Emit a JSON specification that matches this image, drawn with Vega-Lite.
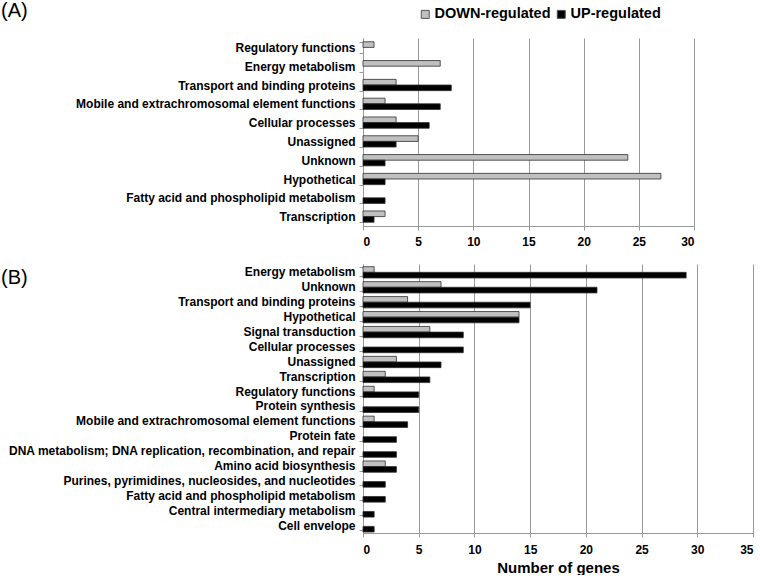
{
  "$schema": "https://vega.github.io/schema/vega-lite/v6.json",
  "padding": {"left": 0, "top": 0, "right": 5, "bottom": 0},
  "background": "white",
  "config": {
    "font": "Liberation Sans",
    "view": {"stroke": null},
    "axis": {"labelFontWeight": "bold", "labelFontSize": 12, "labelColor": "#000", "domainColor": "#9a9a9a", "tickColor": "#9a9a9a", "tickSize": 4},
    "title": {"fontSize": 20, "fontWeight": "normal", "color": "#000", "anchor": "start", "frame": "group"}
  },
  "datasets": {
    "genes": [
      {"panel": "A", "category": "Regulatory functions", "regulation": "DOWN-regulated", "genes": 1},
      {"panel": "A", "category": "Energy metabolism", "regulation": "DOWN-regulated", "genes": 7},
      {"panel": "A", "category": "Transport and binding proteins", "regulation": "DOWN-regulated", "genes": 3},
      {"panel": "A", "category": "Transport and binding proteins", "regulation": "UP-regulated", "genes": 8},
      {"panel": "A", "category": "Mobile and extrachromosomal element functions", "regulation": "DOWN-regulated", "genes": 2},
      {"panel": "A", "category": "Mobile and extrachromosomal element functions", "regulation": "UP-regulated", "genes": 7},
      {"panel": "A", "category": "Cellular processes", "regulation": "DOWN-regulated", "genes": 3},
      {"panel": "A", "category": "Cellular processes", "regulation": "UP-regulated", "genes": 6},
      {"panel": "A", "category": "Unassigned", "regulation": "DOWN-regulated", "genes": 5},
      {"panel": "A", "category": "Unassigned", "regulation": "UP-regulated", "genes": 3},
      {"panel": "A", "category": "Unknown", "regulation": "DOWN-regulated", "genes": 24},
      {"panel": "A", "category": "Unknown", "regulation": "UP-regulated", "genes": 2},
      {"panel": "A", "category": "Hypothetical", "regulation": "DOWN-regulated", "genes": 27},
      {"panel": "A", "category": "Hypothetical", "regulation": "UP-regulated", "genes": 2},
      {"panel": "A", "category": "Fatty acid and phospholipid metabolism", "regulation": "UP-regulated", "genes": 2},
      {"panel": "A", "category": "Transcription", "regulation": "DOWN-regulated", "genes": 2},
      {"panel": "A", "category": "Transcription", "regulation": "UP-regulated", "genes": 1},
      {"panel": "B", "category": "Energy metabolism", "regulation": "DOWN-regulated", "genes": 1},
      {"panel": "B", "category": "Energy metabolism", "regulation": "UP-regulated", "genes": 29},
      {"panel": "B", "category": "Unknown", "regulation": "DOWN-regulated", "genes": 7},
      {"panel": "B", "category": "Unknown", "regulation": "UP-regulated", "genes": 21},
      {"panel": "B", "category": "Transport and binding proteins", "regulation": "DOWN-regulated", "genes": 4},
      {"panel": "B", "category": "Transport and binding proteins", "regulation": "UP-regulated", "genes": 15},
      {"panel": "B", "category": "Hypothetical", "regulation": "DOWN-regulated", "genes": 14},
      {"panel": "B", "category": "Hypothetical", "regulation": "UP-regulated", "genes": 14},
      {"panel": "B", "category": "Signal transduction", "regulation": "DOWN-regulated", "genes": 6},
      {"panel": "B", "category": "Signal transduction", "regulation": "UP-regulated", "genes": 9},
      {"panel": "B", "category": "Cellular processes", "regulation": "UP-regulated", "genes": 9},
      {"panel": "B", "category": "Unassigned", "regulation": "DOWN-regulated", "genes": 3},
      {"panel": "B", "category": "Unassigned", "regulation": "UP-regulated", "genes": 7},
      {"panel": "B", "category": "Transcription", "regulation": "DOWN-regulated", "genes": 2},
      {"panel": "B", "category": "Transcription", "regulation": "UP-regulated", "genes": 6},
      {"panel": "B", "category": "Regulatory functions", "regulation": "DOWN-regulated", "genes": 1},
      {"panel": "B", "category": "Regulatory functions", "regulation": "UP-regulated", "genes": 5},
      {"panel": "B", "category": "Protein synthesis", "regulation": "UP-regulated", "genes": 5},
      {"panel": "B", "category": "Mobile and extrachromosomal element functions", "regulation": "DOWN-regulated", "genes": 1},
      {"panel": "B", "category": "Mobile and extrachromosomal element functions", "regulation": "UP-regulated", "genes": 4},
      {"panel": "B", "category": "Protein fate", "regulation": "UP-regulated", "genes": 3},
      {"panel": "B", "category": "DNA metabolism; DNA replication, recombination, and repair", "regulation": "UP-regulated", "genes": 3},
      {"panel": "B", "category": "Amino acid biosynthesis", "regulation": "DOWN-regulated", "genes": 2},
      {"panel": "B", "category": "Amino acid biosynthesis", "regulation": "UP-regulated", "genes": 3},
      {"panel": "B", "category": "Purines, pyrimidines, nucleosides, and nucleotides", "regulation": "UP-regulated", "genes": 2},
      {"panel": "B", "category": "Fatty acid and phospholipid metabolism", "regulation": "UP-regulated", "genes": 2},
      {"panel": "B", "category": "Central intermediary metabolism", "regulation": "UP-regulated", "genes": 1},
      {"panel": "B", "category": "Cell envelope", "regulation": "UP-regulated", "genes": 1}
    ]
  },
  "resolve": {"legend": {"color": "independent"}, "scale": {"y": "independent", "x": "independent"}},
  "spacing": 11,
  "vconcat": [
    {
      "data": {"name": "genes"},
      "transform": [{"filter": "datum.panel === 'A'"}],
      "title": {"text": "(A)", "dx": -362, "offset": -13.5},
      "width": 331,
      "height": 188,
      "mark": {"type": "bar", "stroke": "#303030", "strokeWidth": 0.8},
      "encoding": {
        "y": {"field": "category", "type": "nominal", "sort": null, "title": null,
              "scale": {"paddingInner": 0.4, "paddingOuter": 0.2},
              "axis": {"tickBand": "extent", "labelPadding": 4, "minExtent": 363, "maxExtent": 363, "labelLimit": 400}},
        "yOffset": {"field": "regulation", "type": "nominal", "sort": ["DOWN-regulated", "UP-regulated"]},
        "x": {"field": "genes", "type": "quantitative", "title": null,
              "scale": {"domain": [0, 30], "nice": false},
              "axis": {"values": [0, 5, 10, 15, 20, 25, 30], "grid": true, "gridColor": "#9a9a9a", "labelPadding": 6}},
        "color": {"field": "regulation", "type": "nominal",
                  "scale": {"domain": ["DOWN-regulated", "UP-regulated"], "range": ["#c0c0c0", "#000000"]},
                  "legend": {"title": null, "orient": "none", "direction": "horizontal", "legendX": 55, "legendY": -31,
                             "symbolType": "square", "symbolSize": 64, "symbolStrokeColor": "#555", "symbolStrokeWidth": 1,
                             "labelFontSize": 14.5, "labelFontWeight": "bold", "labelColor": "#000", "labelOffset": 2, "columnPadding": 3}}
      }
    },
    {
      "data": {"name": "genes"},
      "transform": [{"filter": "datum.panel === 'B'"}],
      "title": {"text": "(B)", "dx": -362, "dy": 30, "offset": 0},
      "width": 390,
      "height": 269,
      "mark": {"type": "bar", "stroke": "#303030", "strokeWidth": 0.8},
      "encoding": {
        "y": {"field": "category", "type": "nominal", "sort": null, "title": null,
              "scale": {"paddingInner": 0.36, "paddingOuter": 0.18},
              "axis": {"tickBand": "extent", "labelPadding": 4, "minExtent": 363, "maxExtent": 363, "labelLimit": 400}},
        "yOffset": {"field": "regulation", "type": "nominal", "sort": ["DOWN-regulated", "UP-regulated"]},
        "x": {"field": "genes", "type": "quantitative", "title": "Number of genes",
              "scale": {"domain": [0, 35], "nice": false},
              "axis": {"values": [0, 5, 10, 15, 20, 25, 30, 35], "grid": true, "gridColor": "#9a9a9a", "labelPadding": 7,
                       "titleFontSize": 15, "titleFontWeight": "bold", "titleColor": "#000", "titlePadding": 5}},
        "color": {"field": "regulation", "type": "nominal",
                  "scale": {"domain": ["DOWN-regulated", "UP-regulated"], "range": ["#c0c0c0", "#000000"]},
                  "legend": null}
      }
    }
  ]
}
